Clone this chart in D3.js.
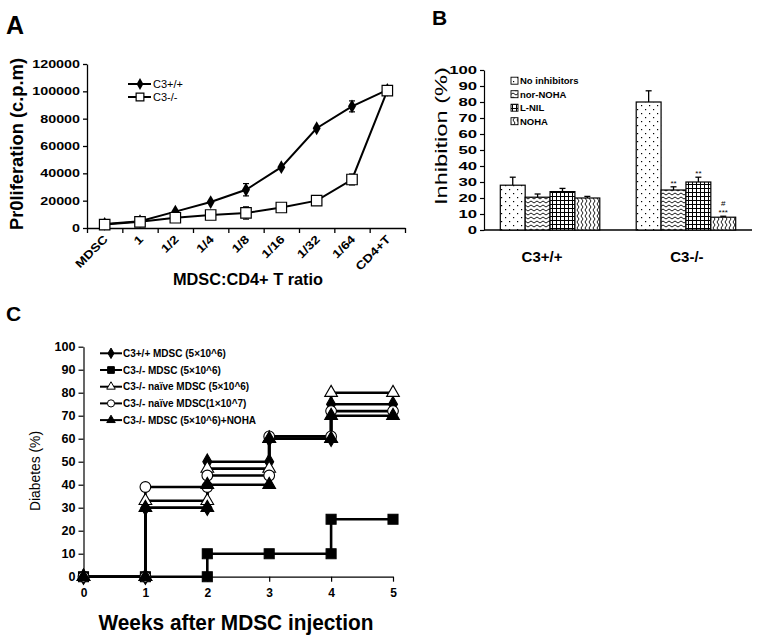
<!DOCTYPE html>
<html><head><meta charset="utf-8">
<script src="https://cdn.jsdelivr.net/npm/d3@7"></script>
<style>
body{margin:0;background:#fff}
text{font-family:"Liberation Sans",Arial,sans-serif;fill:#000}
</style>
</head><body>
<svg id="chart" width="757" height="637"></svg>
<script>
// ---------- Panel A data ----------
const ratioCategories = ["MDSC","1","1/2","1/4","1/8","1/16","1/32","1/64","CD4+T"];
const prolifWT    = [3000,5000,12000,19000,28000,44500,73000,89000,101000];
const prolifWTErr = [0,0,0,0,4500,0,0,4000,2500];
const prolifKO    = [2500,4500,7500,9500,11000,15000,20000,35500,100500];
const prolifKOErr = [0,0,0,0,4500,0,0,4000,2500];
const prolifTicks = [0,20000,40000,60000,80000,100000,120000];
const prolifSeries = ["C3+/+","C3-/-"];

// ---------- Panel B data ----------
const genotypes  = ["C3+/+","C3-/-"];
const inhibitors = ["No inhibitors","nor-NOHA","L-NIL","NOHA"];
const inhibWT    = [28,20.5,24,20];
const inhibWTErr = [5,2,2,1];
const inhibKO    = [80,25,30,8];
const inhibKOErr = [7,2,3,0.6];
const inhibStarsKO = ["","**","**","***"];
const inhibHashKO  = ["","","","#"];
const inhibTicks = [0,10,20,30,40,50,60,70,80,90,100];

// ---------- Panel C data ----------
const weeks = [0,1,2,3,4,5];
const diabSeriesNames = ["C3+/+ MDSC (5×10^6)","C3-/- MDSC (5×10^6)","C3-/- naïve MDSC (5×10^6)","C3-/- naïve MDSC(1×10^7)","C3-/- MDSC (5×10^6)+NOHA"];
const diabWT        = [0,30,50,60,75,75];
const diabKO        = [0,0,10,10,25,25];
const diabNaive5e6  = [0,33,47,60,80,80];
const diabNaive1e7  = [0,39,44,61,72,72];
const diabKONOHA    = [0,30,40,60,70,70];
const diabTicks = [0,10,20,30,40,50,60,70,80,90,100];

const svg = d3.select("#chart");
const FONT = '"Liberation Sans",Arial,sans-serif';

function stretch(sel, sx){
  sel.each(function(){
    const w = this.getComputedTextLength();
    d3.select(this).attr("textLength", w*sx).attr("lengthAdjust","spacingAndGlyphs");
  });
}
function fitText(sel, len){
  sel.attr("textLength", len).attr("lengthAdjust","spacingAndGlyphs");
}

// Panel letters
svg.append("text").attr("x",6).attr("y",34).attr("font-size",25).attr("font-weight","bold").text("A");
svg.append("text").attr("x",432).attr("y",25).attr("font-size",21).attr("font-weight","bold").text("B");
svg.append("text").attr("x",6).attr("y",321).attr("font-size",21).attr("font-weight","bold").text("C");

// ================= Panel A =================
{
  const g = svg.append("g");
  const x = d3.scaleBand().domain(ratioCategories).range([87,405]).padding(0);
  const xi = d3.scaleLinear().domain([0,ratioCategories.length]).range([87,405]);
  const y = d3.scaleLinear().domain([0,120000]).range([228,64]);
  const cx = c => x(c)+x.bandwidth()/2;

  const ya = g.append("g").attr("transform","translate(87,0)")
    .call(d3.axisLeft(y).tickValues(prolifTicks).tickSize(4).tickSizeOuter(0).tickFormat(d3.format("d")));
  ya.selectAll("text").attr("font-size",11).attr("font-weight","bold").attr("font-family",FONT).call(stretch,1.3);
  const xa = g.append("g").attr("transform","translate(0,228)")
    .call(d3.axisBottom(xi).tickValues(d3.range(ratioCategories.length+1)).tickSize(5).tickSizeOuter(0).tickFormat(""));
  g.selectAll("g.tick line, path.domain").attr("stroke","#000").attr("stroke-width",1.3);

  g.selectAll(".xlab").data(ratioCategories).join("text")
    .attr("font-size",11.5).attr("font-weight","bold").attr("text-anchor","end")
    .attr("transform",d=>`translate(${cx(d)+4},240) rotate(-45)`).text(d=>d).call(stretch,1.2);

  const line = d3.line().x((d,i)=>cx(ratioCategories[i])).y(d=>y(d));
  [[prolifWT,prolifWTErr],[prolifKO,prolifKOErr]].forEach(([vals,errs])=>{
    g.append("path").attr("d",line(vals)).attr("fill","none").attr("stroke","#000").attr("stroke-width",2);
    vals.forEach((v,i)=>{
      if(errs[i]>0){
        const xx=cx(ratioCategories[i]);
        g.append("line").attr("x1",xx).attr("x2",xx).attr("y1",y(v-errs[i])).attr("y2",y(v+errs[i])).attr("stroke","#000").attr("stroke-width",1.2);
        [v-errs[i],v+errs[i]].forEach(e=>g.append("line").attr("x1",xx-3).attr("x2",xx+3).attr("y1",y(e)).attr("y2",y(e)).attr("stroke","#000").attr("stroke-width",1.2));
      }
    });
  });
  g.selectAll(".mwt").data(prolifWT).join("path")
    .attr("transform",(d,i)=>`translate(${cx(ratioCategories[i])},${y(d)})`)
    .attr("d",d3.symbol(d3.symbolDiamond,55)).attr("fill","#000");
  g.selectAll(".mko").data(prolifKO).join("path")
    .attr("transform",(d,i)=>`translate(${cx(ratioCategories[i])},${y(d)})`)
    .attr("d",d3.symbol(d3.symbolSquare,110)).attr("fill","#fff").attr("stroke","#000").attr("stroke-width",1.2);

  // legend
  [[84,"dia"],[97,"sq"]].forEach(([ly,t],i)=>{
    g.append("line").attr("x1",128).attr("x2",151).attr("y1",ly).attr("y2",ly).attr("stroke","#000").attr("stroke-width",2);
    const m = g.append("path").attr("transform",`translate(140,${ly})`);
    if(t==="dia") m.attr("d",d3.symbol(d3.symbolDiamond,40)).attr("fill","#000");
    else m.attr("d",d3.symbol(d3.symbolSquare,60)).attr("fill","#fff").attr("stroke","#000").attr("stroke-width",1.2);
    g.append("text").attr("x",153).attr("y",ly+4).attr("font-size",11).text(prolifSeries[i]);
  });

  g.append("text").attr("transform","translate(23,144) rotate(-90)").attr("text-anchor","middle")
    .attr("font-size",18).attr("font-weight","bold").call(fitText,172).text("Pr0liferation (c.p.m)");
  g.append("text").attr("x",248).attr("y",285).attr("text-anchor","middle")
    .attr("font-size",17).attr("font-weight","bold").call(fitText,150).text("MDSC:CD4+ T ratio");
}

// ================= Panel B =================
{
  const g = svg.append("g");
  const defs = svg.append("defs");
  // patterns
  const pDots = defs.append("pattern").attr("id","pDots").attr("patternUnits","userSpaceOnUse").attr("width",8).attr("height",8);
  pDots.append("rect").attr("width",8).attr("height",8).attr("fill","#fff");
  pDots.append("rect").attr("x",1).attr("y",1).attr("width",1.2).attr("height",1.2).attr("fill","#000");
  pDots.append("rect").attr("x",5).attr("y",5).attr("width",1.2).attr("height",1.2).attr("fill","#000");
  const pWave = defs.append("pattern").attr("id","pWave").attr("patternUnits","userSpaceOnUse").attr("width",6).attr("height",4);
  pWave.append("rect").attr("width",6).attr("height",4).attr("fill","#fff");
  pWave.append("path").attr("d","M0,3 L3,1 L6,3").attr("fill","none").attr("stroke","#000").attr("stroke-width",0.9);
  const pGrid = defs.append("pattern").attr("id","pGrid").attr("patternUnits","userSpaceOnUse").attr("width",4).attr("height",4);
  pGrid.append("rect").attr("width",4).attr("height",4).attr("fill","#fff");
  pGrid.append("path").attr("d","M0.5,0 V4 M0,0.5 H4").attr("stroke","#000").attr("stroke-width",1);
  const pHerr = defs.append("pattern").attr("id","pHerr").attr("patternUnits","userSpaceOnUse").attr("width",4).attr("height",6);
  pHerr.append("rect").attr("width",4).attr("height",6).attr("fill","#fff");
  pHerr.append("path").attr("d","M1,0 L3,3 L1,6").attr("fill","none").attr("stroke","#000").attr("stroke-width",0.9);
  const fills = ["url(#pDots)","url(#pWave)","url(#pGrid)","url(#pHerr)"];

  const x0 = d3.scaleBand().domain(genotypes).range([484,752]).paddingInner(0.268).paddingOuter(0.12);
  const x1 = d3.scaleBand().domain(inhibitors).range([0,x0.bandwidth()]).padding(0);
  const y = d3.scaleLinear().domain([0,100]).range([230,70]);

  const ya = g.append("g").attr("transform","translate(484,0)")
    .call(d3.axisLeft(y).tickValues(inhibTicks).tickSize(4).tickSizeOuter(0));
  ya.selectAll("text").attr("font-size",11.5).attr("font-weight","bold").attr("font-family",FONT).call(stretch,1.45);
  ya.selectAll("line, path").attr("stroke","#000").attr("stroke-width",1.2);
  g.append("line").attr("x1",484).attr("x2",752).attr("y1",230).attr("y2",230).attr("stroke","#000").attr("stroke-width",1.3);

  const data = [[inhibWT,inhibWTErr],[inhibKO,inhibKOErr]];
  genotypes.forEach((gt,gi)=>{
    const [vals,errs]=data[gi];
    inhibitors.forEach((inh,ii)=>{
      const bx = x0(gt)+x1(inh), bw = x1.bandwidth(), v=vals[ii];
      const mx = bx+bw/2, top=y(v+errs[ii]);
      g.append("line").attr("x1",mx).attr("x2",mx).attr("y1",y(v)).attr("y2",top).attr("stroke","#000").attr("stroke-width",1.3);
      g.append("line").attr("x1",mx-3).attr("x2",mx+3).attr("y1",top).attr("y2",top).attr("stroke","#000").attr("stroke-width",1.3);
      g.append("rect").attr("x",bx).attr("y",y(v)).attr("width",bw).attr("height",230-y(v))
        .attr("fill",fills[ii]).attr("stroke","#000").attr("stroke-width",1.2);
    });
    g.append("text").attr("x",x0(gt)+x0.bandwidth()/2+(gi?1:-8)).attr("y",262).attr("text-anchor","middle")
      .attr("font-size",15).attr("font-weight","bold").text(gt);
  });
  inhibitors.forEach((inh,ii)=>{
    const bx = x0("C3-/-")+x1(inh)+x1.bandwidth()/2;
    const top = y(inhibKO[ii]+inhibKOErr[ii]);
    if(inhibStarsKO[ii]) g.append("text").attr("x",bx).attr("y",top-1).attr("text-anchor","middle")
      .attr("font-size",8).text(inhibStarsKO[ii]);
    if(inhibHashKO[ii]) g.append("text").attr("x",bx).attr("y",top-10).attr("text-anchor","middle")
      .attr("font-size",8).text(inhibHashKO[ii]);
  });
  // legend
  inhibitors.forEach((inh,ii)=>{
    const ly = 80.7+ii*13.5;
    g.append("rect").attr("x",511).attr("y",ly-3.5).attr("width",7).attr("height",7).attr("fill",fills[ii]).attr("stroke","#000").attr("stroke-width",0.9);
    g.append("text").attr("x",520).attr("y",ly+3.5).attr("font-size",9.5).attr("font-weight","bold").text(inh);
  });
  g.append("text").attr("transform","translate(447,136) rotate(-90)").attr("text-anchor","middle")
    .attr("font-size",17).call(fitText,138).text("Inhibition (%)");
}

// ================= Panel C =================
{
  const g = svg.append("g");
  const x = d3.scaleLinear().domain([0,5]).range([83.5,393]);
  const y = d3.scaleLinear().domain([0,100]).range([576.7,346.7]);

  const ya = g.append("g").attr("transform","translate(83.5,0)")
    .call(d3.axisLeft(y).tickValues(diabTicks).tickSize(5).tickSizeOuter(0));
  ya.selectAll("text").attr("font-size",12).attr("font-weight","bold").attr("font-family",FONT).call(stretch,1.05);
  const xa = g.append("g").attr("transform","translate(0,576.7)")
    .call(d3.axisBottom(x).tickValues(weeks).tickSize(5).tickSizeOuter(0).tickFormat(d3.format("d")));
  xa.selectAll("text").attr("font-size",12).attr("font-weight","bold").attr("font-family",FONT).attr("dy","1.05em");
  g.selectAll("line, path.domain").attr("stroke","#000").attr("stroke-width",1.2);

  const seriesList = [
    {vals:diabWT, sym:d3.symbolDiamond, size:70, fill:"#000"},
    {vals:diabKO, sym:d3.symbolSquare, size:100, fill:"#000"},
    {vals:diabNaive5e6, sym:d3.symbolTriangle, size:70, fill:"#fff"},
    {vals:diabNaive1e7, sym:d3.symbolCircle, size:90, fill:"#fff"},
    {vals:diabKONOHA, sym:d3.symbolTriangle, size:70, fill:"#000"}
  ];
  const line = d3.line().curve(d3.curveStepAfter).x((d,i)=>x(weeks[i])).y(d=>y(d));
  seriesList.forEach(s=>{
    g.append("path").attr("d",line(s.vals)).attr("fill","none").attr("stroke","#000").attr("stroke-width",2.6);
  });
  seriesList.forEach(s=>{
    const pts=[[weeks[0],s.vals[0]]];
    for(let i=1;i<weeks.length;i++){pts.push([weeks[i],s.vals[i-1]]); if(s.vals[i]!==s.vals[i-1]) pts.push([weeks[i],s.vals[i]]);}
    g.selectAll(null).data(pts).join("path")
      .attr("transform",d=>`translate(${x(d[0])},${y(d[1])})`)
      .attr("d",d3.symbol(s.sym,s.size)).attr("fill",s.fill).attr("stroke","#000").attr("stroke-width",1.1);
  });
  // legend
  seriesList.forEach((s,i)=>{
    const ly = 353.3+i*16.7;
    g.append("line").attr("x1",100).attr("x2",122).attr("y1",ly).attr("y2",ly).attr("stroke","#000").attr("stroke-width",2);
    g.append("path").attr("transform",`translate(111,${ly})`).attr("d",d3.symbol(s.sym,s.size*0.45))
      .attr("fill",s.fill).attr("stroke","#000").attr("stroke-width",1);
    g.append("text").attr("x",123).attr("y",ly+3.6).attr("font-size",10).attr("font-weight","bold").text(diabSeriesNames[i]);
  });
  g.append("text").attr("transform","translate(40,471) rotate(-90)").attr("text-anchor","middle")
    .attr("font-size",15).call(fitText,80).text("Diabetes (%)");
  g.append("text").attr("x",236).attr("y",630).attr("text-anchor","middle")
    .attr("font-size",22).attr("font-weight","bold").call(fitText,275).text("Weeks after MDSC injection");
}
</script>
</body></html>
